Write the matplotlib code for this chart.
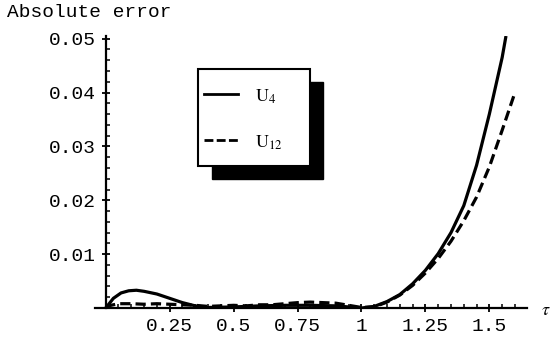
#!/usr/bin/env python3
# -*- coding: utf-8 -*-
"""
Erro absoluto das aproximações U4 e U12 em função de tau
"""

import matplotlib.pyplot as plt
from matplotlib.patches import Rectangle
from matplotlib.lines import Line2D

plt.rcParams['mathtext.fontset'] = 'stix'

# U4 (linha cheia)
tau_u4 = [0, 0.03, 0.06, 0.09, 0.12, 0.15, 0.2, 0.25, 0.3, 0.35, 0.4, 0.5, 0.6,
          0.7, 0.8, 0.9, 0.95, 1.0, 1.05, 1.1, 1.15, 1.2, 1.25, 1.3, 1.35, 1.4,
          1.45, 1.5, 1.55, 1.565]
err_u4 = [0, 0.0018, 0.0028, 0.0032, 0.0033, 0.0031, 0.0026, 0.0018, 0.0010,
          0.0004, 0.0001, 0.0002, 0.0004, 0.0005, 0.0005, 0.0004, 0.0002, 0.0,
          0.0003, 0.0012, 0.0025, 0.0045, 0.0070, 0.0101, 0.0140, 0.0190,
          0.0265, 0.0360, 0.0465, 0.0505]

# U12 (linha tracejada)
tau_u12 = [0, 0.02, 0.05, 0.1, 0.15, 0.2, 0.25, 0.3, 0.35, 0.4, 0.45, 0.5, 0.55,
           0.6, 0.65, 0.7, 0.75, 0.8, 0.85, 0.9, 0.95, 1.0, 1.05, 1.1, 1.15, 1.2,
           1.25, 1.3, 1.35, 1.4, 1.45, 1.5, 1.55, 1.6]
err_u12 = [0, 0.0005, 0.0008, 0.0008, 0.0007, 0.0008, 0.0007, 0.0006, 0.0005,
           0.0003, 0.0004, 0.0005, 0.0004, 0.0006, 0.0006, 0.0008, 0.0010,
           0.0011, 0.0010, 0.0009, 0.0005, 0.0001, 0.0002, 0.0011, 0.0024,
           0.0042, 0.0065, 0.0092, 0.0124, 0.0162, 0.0206, 0.0262, 0.0330, 0.0400]

xticks = [0.25, 0.5, 0.75, 1, 1.25, 1.5]
xlabels = ['0.25', '0.5', '0.75', '1', '1.25', '1.5']
yticks = [0.01, 0.02, 0.03, 0.04, 0.05]
ylabels = ['0.01', '0.02', '0.03', '0.04', '0.05']

mono = 'Liberation Mono'
fs = 14
fig = plt.figure(figsize=(5.5, 3.39), dpi=100)
ax = fig.add_axes([0.1736, 0.0914, 0.7845, 0.8024])

ax.plot(tau_u4, err_u4, color='k', lw=2.3, solid_capstyle='butt')
ax.plot(tau_u12, err_u12, color='k', lw=2.3, dashes=(3.2, 1.6))

ax.set_xlim(-0.04, 1.647)
ax.set_ylim(0, 0.0505)
for s in ['top', 'right']:
    ax.spines[s].set_visible(False)
ax.spines['left'].set_position(('data', 0))
ax.spines['bottom'].set_position(('data', 0))
ax.spines['left'].set_linewidth(1.6)
ax.spines['bottom'].set_linewidth(1.6)

ax.set_xticks(xticks)
ax.set_xticklabels(xlabels, fontfamily=mono, fontsize=fs)
ax.set_yticks(yticks)
ax.set_yticklabels(ylabels, fontfamily=mono, fontsize=fs)
ax.set_xticks([i * 0.05 for i in range(1, 33)], minor=True)
ax.set_yticks([i * 0.002 for i in range(1, 25)], minor=True)
ax.tick_params(which='major', direction='inout', length=6, width=1.3)
ax.tick_params(which='minor', direction='in', length=3, width=1.1)
ax.tick_params(axis='x', pad=4)
ax.tick_params(axis='y', pad=4)

fig.text(0.013, 0.962, 'Absolute error', fontfamily=mono, fontsize=fs,
         ha='left', va='center')
fig.text(0.992, 0.086, r'$\tau$', fontsize=13, ha='center', va='center')

# legenda com sombra
fig.patches.append(Rectangle((212 / 550, 1 - 179 / 339), 111 / 550, 97 / 339,
                             transform=fig.transFigure, facecolor='k',
                             edgecolor='k', zorder=5))
fig.patches.append(Rectangle((198 / 550, 1 - 166 / 339), 112 / 550, 97 / 339,
                             transform=fig.transFigure, facecolor='w',
                             edgecolor='k', lw=1.5, zorder=6))
fig.lines.append(Line2D([204 / 550, 238 / 550], [1 - 94 / 339] * 2,
                        transform=fig.transFigure, color='k', lw=2, zorder=7))
fig.lines.append(Line2D([204 / 550, 238 / 550], [1 - 140 / 339] * 2,
                        transform=fig.transFigure, color='k', lw=2,
                        dashes=(3.2, 1.2), zorder=7))
fig.text(255 / 550, 1 - 97 / 339, r'$\mathrm{U}_4$', fontsize=13,
         va='center', zorder=8)
fig.text(255 / 550, 1 - 143 / 339, r'$\mathrm{U}_{12}$', fontsize=13,
         va='center', zorder=8)

plt.savefig('out.png', dpi=100)
